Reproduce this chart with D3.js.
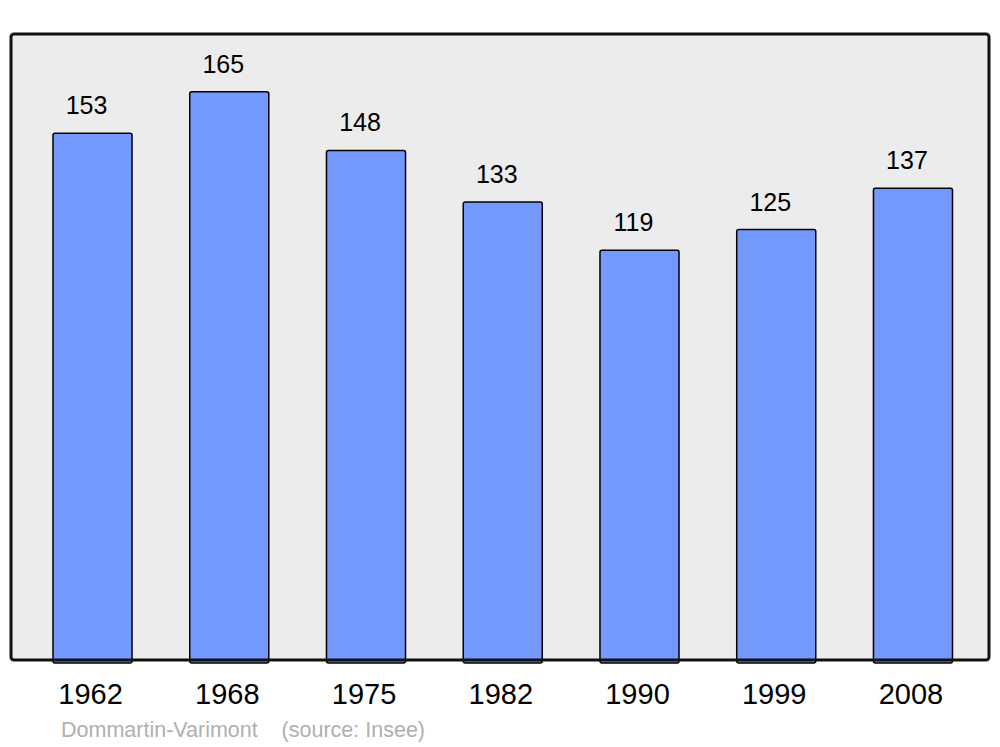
<!DOCTYPE html>
<html>
<head>
<meta charset="utf-8">
<script src="https://cdn.jsdelivr.net/npm/d3@7"></script>
<style>
	body { margin: 0; background: #fff; }
	svg { display: block; font-family: 'Liberation Sans', Arial, sans-serif; }
</style>
</head>
<body>
<svg id="chart" width="1000" height="747"></svg>
<script>
const years = ['1962', '1968', '1975', '1982', '1990', '1999', '2008']
const population = [153, 165, 148, 133, 119, 125, 137]
const caption = 'Dommartin-Varimont    (source: Insee)'

const data = years.map((year, i) => ({ year, value: population[i] }))

const frame = { left: 11, top: 34, right: 989, bottom: 660 }

const svg = d3.select('#chart')

const x = d3
	.scaleBand()
	.domain(years)
	.range([53, 952.5])
	.paddingInner(0.422)
	.paddingOuter(0)

const y = d3
	.scaleLinear()
	.domain([0, 181.8])
	.range([frame.bottom, frame.top])

// plot background
svg.append('rect')
	.attr('x', frame.left)
	.attr('y', frame.top)
	.attr('width', frame.right - frame.left)
	.attr('height', frame.bottom - frame.top)
	.attr('rx', 3)
	.attr('fill', '#ececec')
	.attr('stroke', 'none')

// bars
svg.append('g')
	.selectAll('rect')
	.data(data)
	.enter()
	.append('rect')
	.attr('x', d => x(d.year))
	.attr('y', d => y(d.value))
	.attr('width', x.bandwidth())
	.attr('height', d => y(0) - y(d.value) + 3)
	.attr('rx', 2)
	.attr('fill', '#7399ff')
	.attr('stroke', '#000')
	.attr('stroke-width', 1.5)

// frame border on top so it covers bar bottoms
svg.append('rect')
	.attr('x', frame.left)
	.attr('y', frame.top)
	.attr('width', frame.right - frame.left)
	.attr('height', frame.bottom - frame.top)
	.attr('rx', 3)
	.attr('fill', 'none')
	.attr('stroke', '#111')
	.attr('stroke-width', 3)

// value labels
svg.append('g')
	.selectAll('text')
	.data(data)
	.enter()
	.append('text')
	.attr('x', d => x(d.year) + x.bandwidth() / 2 - 6)
	.attr('y', d => y(d.value) - 19)
	.attr('text-anchor', 'middle')
	.attr('font-size', 25)
	.attr('fill', '#000')
	.text(d => d.value)

// year axis labels
const xAxis = svg.append('g')
	.attr('transform', `translate(-2,${frame.bottom})`)
	.call(d3.axisBottom(x).tickSize(0).tickPadding(0))

xAxis.select('.domain').remove()
xAxis.selectAll('text')
	.attr('dy', null)
	.attr('y', 44)
	.attr('font-size', 29)
	.attr('font-family', "'Liberation Sans', Arial, sans-serif")
	.attr('fill', '#000')

// caption
svg.append('text')
	.attr('x', 61)
	.attr('y', 737)
	.attr('font-size', 21.5)
	.attr('fill', '#b0b0b0')
	.attr('xml:space', 'preserve')
	.style('white-space', 'pre')
	.text(caption)
</script>
</body>
</html>
